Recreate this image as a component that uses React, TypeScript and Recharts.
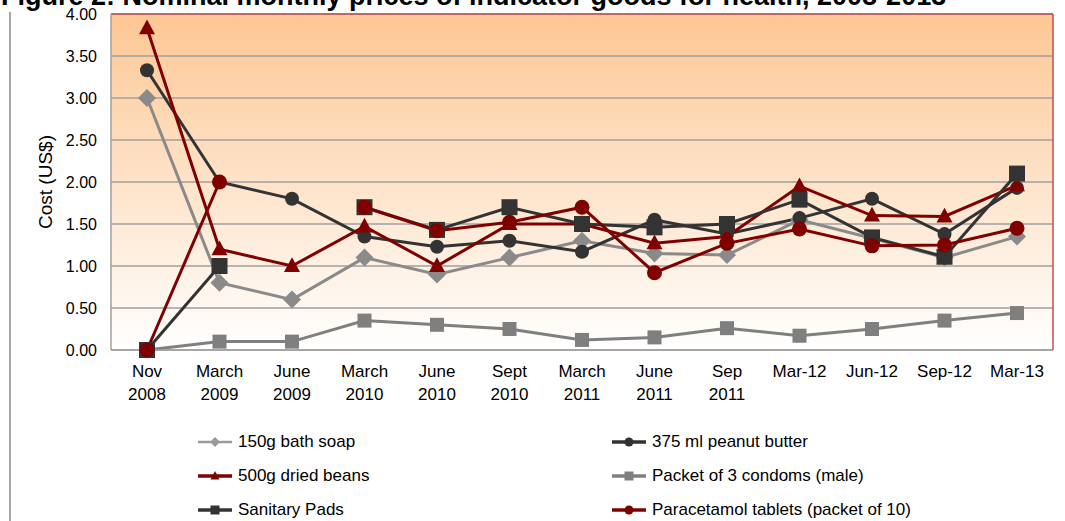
import { LineChart, Line, XAxis, YAxis, CartesianGrid, ReferenceLine } from "recharts";

const categories = [
  "Nov 2008", "March 2009", "June 2009", "March 2010", "June 2010", "Sept 2010",
  "March 2011", "June 2011", "Sep 2011", "Mar-12", "Jun-12", "Sep-12", "Mar-13",
];

const soap = [3.0, 0.8, 0.6, 1.1, 0.9, 1.1, 1.3, 1.15, 1.13, 1.55, 1.33, 1.1, 1.35];
const peanutButter = [3.33, 2.0, 1.8, 1.35, 1.23, 1.3, 1.17, 1.55, 1.38, 1.57, 1.8, 1.38, 1.93];
const driedBeans = [3.83, 1.2, 1.0, 1.47, 1.0, 1.5, 1.5, 1.27, 1.35, 1.95, 1.6, 1.59, 1.96];
const condoms = [0.0, 0.1, 0.1, 0.35, 0.3, 0.25, 0.12, 0.15, 0.26, 0.17, 0.25, 0.35, 0.44];
const sanitaryPads = [0.0, 1.0, null, 1.7, 1.43, 1.7, 1.5, 1.46, 1.5, 1.79, 1.34, 1.11, 2.1];
const paracetamol = [0.0, 2.0, null, 1.7, 1.42, 1.52, 1.7, 0.92, 1.27, 1.44, 1.24, 1.25, 1.45];

const yTicks = [0, 0.5, 1, 1.5, 2, 2.5, 3, 3.5, 4];

type Shape = "diamond" | "circle" | "triangle" | "square";

interface SeriesDef {
  key: string;
  name: string;
  values: (number | null)[];
  color: string;
  shape: Shape;
  size: number;
}

const series: SeriesDef[] = [
  { key: "soap", name: "150g bath soap", values: soap, color: "#8a8a8a", shape: "diamond", size: 9 },
  { key: "peanutButter", name: "375 ml peanut butter", values: peanutButter, color: "#333333", shape: "circle", size: 7 },
  { key: "driedBeans", name: "500g dried beans", values: driedBeans, color: "#800000", shape: "triangle", size: 8 },
  { key: "condoms", name: "Packet of 3 condoms (male)", values: condoms, color: "#7f7f7f", shape: "square", size: 7 },
  { key: "sanitaryPads", name: "Sanitary Pads", values: sanitaryPads, color: "#333333", shape: "square", size: 8 },
  { key: "paracetamol", name: "Paracetamol tablets (packet of 10)", values: paracetamol, color: "#800000", shape: "circle", size: 7.5 },
];

const data = categories.map((period, i) => {
  const row: Record<string, string | number | null> = { period };
  series.forEach((s) => {
    row[s.key] = s.values[i];
  });
  return row;
});

const FONT = "'Liberation Sans', Arial, sans-serif";

function Marker({ shape, cx, cy, s, color }: { shape: Shape; cx: number; cy: number; s: number; color: string }) {
  switch (shape) {
    case "circle":
      return <circle cx={cx} cy={cy} r={s} fill={color} />;
    case "square":
      return <rect x={cx - s} y={cy - s} width={s * 2} height={s * 2} fill={color} />;
    case "diamond":
      return <polygon points={`${cx},${cy - s} ${cx + s},${cy} ${cx},${cy + s} ${cx - s},${cy}`} fill={color} />;
    case "triangle":
      return (
        <polygon points={`${cx},${cy - s * 1.1} ${cx + s},${cy + s * 0.75} ${cx - s},${cy + s * 0.75}`} fill={color} />
      );
  }
}

// two-line period labels ("March" over "2010"), single line for "Mar-12" style
function PeriodTick({ x, y, payload }: any) {
  const lines = String(payload.value).split(" ");
  return (
    <text x={x} y={y} textAnchor="middle" fontFamily={FONT} fontSize={17} fill="#000">
      {lines.map((line, i) => (
        <tspan key={i} x={x} dy={i === 0 ? 19 : 23}>
          {line}
        </tspan>
      ))}
    </text>
  );
}

function LegendIcon({ s }: { s: SeriesDef }) {
  const light = s.key === "soap";
  return (
    <svg width={34} height={14} style={{ marginRight: 6, flex: "none" }}>
      <line x1={0} y1={7} x2={34} y2={7} stroke={light ? "#9a9a9a" : s.color} strokeWidth={light ? 2.5 : 3.5} />
      <Marker shape={s.shape} cx={17} cy={7} s={s.shape === "diamond" ? 5 : 4.5} color={light ? "#9a9a9a" : s.color} />
    </svg>
  );
}

function SeriesLegend() {
  return (
    <div
      style={{
        position: "absolute",
        left: 198,
        top: 425,
        display: "grid",
        gridTemplateColumns: "414px 414px",
        gridAutoRows: "34px",
        fontFamily: FONT,
        fontSize: 17,
        color: "#000",
      }}
    >
      {series.map((s) => (
        <div key={s.key} style={{ display: "flex", alignItems: "center" }}>
          <LegendIcon s={s} />
          <span>{s.name}</span>
        </div>
      ))}
    </div>
  );
}

export default function App() {
  return (
    <div
      style={{
        position: "absolute",
        left: 0,
        top: 0,
        width: 1065,
        height: 521,
        background: "#fff",
        overflow: "hidden",
      }}
    >
      <div
        style={{
          position: "absolute",
          left: 1,
          top: -17,
          fontFamily: FONT,
          fontWeight: "bold",
          fontSize: 27,
          lineHeight: "27px",
          whiteSpace: "nowrap",
        }}
      >
        Figure 2: Nominal monthly prices of indicator goods for health, 2008-2013
      </div>
      <div style={{ position: "absolute", left: 9, top: 12, width: 2, height: 509, background: "#a6a6a6" }} />

      <div style={{ position: "absolute", left: 0, top: 0 }}>
        <LineChart width={1065} height={420} data={data} margin={{ top: 14, right: 11, left: 0, bottom: 10 }}>
          <defs>
            <linearGradient id="plotFill" x1="0" y1="0" x2="0" y2="1">
              <stop offset="0%" stopColor="#fdc793" />
              <stop offset="100%" stopColor="#ffffff" />
            </linearGradient>
          </defs>
          <CartesianGrid vertical={false} stroke="#9f9f9f" strokeWidth={1.5} fill="url(#plotFill)" fillOpacity={1} />
          <XAxis
            dataKey="period"
            interval={0}
            padding={{ left: 36, right: 36 }}
            tick={<PeriodTick />}
            tickLine={false}
            axisLine={{ stroke: "#a0a0a0", strokeWidth: 1.5 }}
            height={60}
          />
          <YAxis
            domain={[0, 4]}
            ticks={yTicks}
            width={111}
            tickFormatter={(v: number) => v.toFixed(2)}
            tickLine={false}
            tickMargin={8}
            tick={{ fontFamily: FONT, fontSize: 16, fill: "#000" }}
            axisLine={{ stroke: "#a0a0a0", strokeWidth: 1.5 }}
            label={{
              value: "Cost (US$)",
              angle: -90,
              position: "center",
              dx: -10,
              style: { fontFamily: FONT, fontSize: 19, fill: "#000" },
            }}
          />
          <YAxis
            yAxisId="right"
            orientation="right"
            type="number"
            domain={[0, 4]}
            width={1}
            tick={false}
            tickLine={false}
            axisLine={{ stroke: "#c0504d", strokeWidth: 1.5 }}
          />
          <ReferenceLine y={4} stroke="#c0504d" strokeWidth={1.5} />
          {series.map((s) => (
            <Line
              key={s.key}
              dataKey={s.key}
              name={s.name}
              type="linear"
              stroke={s.color}
              strokeWidth={3}
              connectNulls={false}
              isAnimationActive={false}
              activeDot={false}
              dot={(p: any) =>
                p.cy == null ? (
                  <g key={`${s.key}-${p.index}`} />
                ) : (
                  <Marker key={`${s.key}-${p.index}`} shape={s.shape} cx={p.cx} cy={p.cy} s={s.size} color={s.color} />
                )
              }
            />
          ))}
        </LineChart>
      </div>
      <SeriesLegend />
    </div>
  );
}
